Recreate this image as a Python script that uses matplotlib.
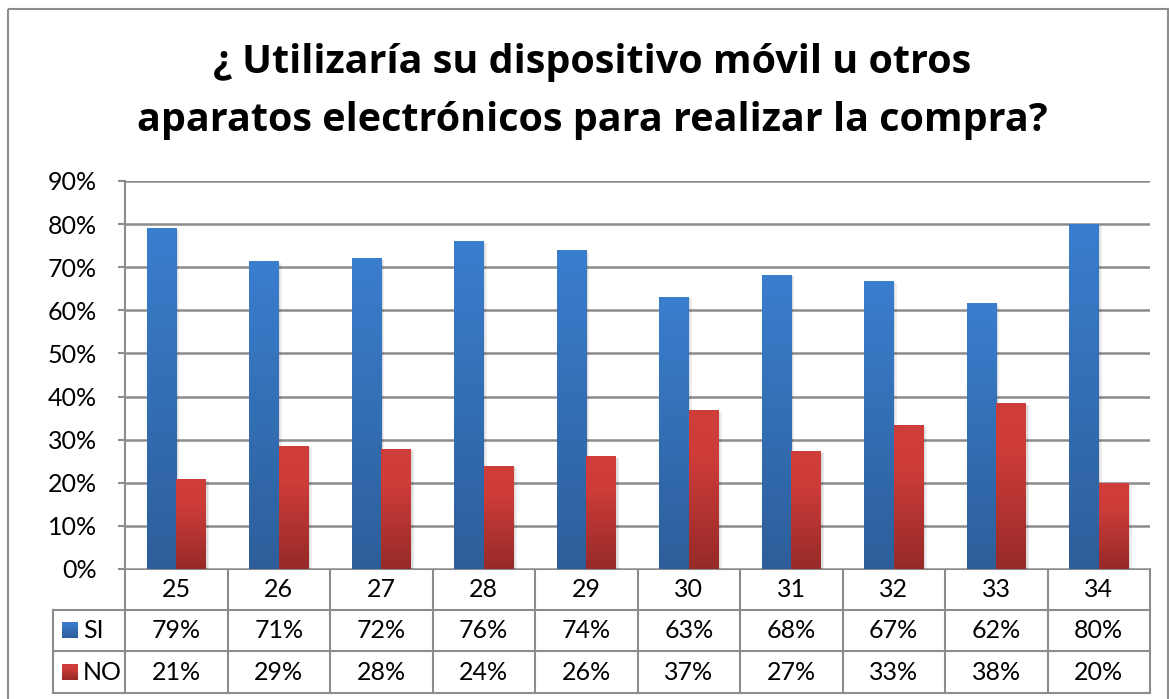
# Encuesta: uso de dispositivos moviles para compras, por edad
import numpy as np
import matplotlib.pyplot as plt
from matplotlib.patches import Rectangle
from matplotlib.colors import LinearSegmentedColormap

plt.rcParams['font.family'] = ['Lato', 'DejaVu Sans']

# Datos
edades = ['25', '26', '27', '28', '29', '30', '31', '32', '33', '34']
si = [79.1, 71.4, 72.1, 76.0, 74.0, 63.2, 68.3, 66.7, 61.6, 80.0]
no = [20.9, 28.6, 27.9, 24.0, 26.2, 36.8, 27.4, 33.4, 38.4, 20.0]
series = ['SI', 'NO']
titulo = ['¿ Utilizaría su dispositivo móvil u otros',
          'aparatos electrónicos para realizar la compra?']
yticks = [0, 10, 20, 30, 40, 50, 60, 70, 80, 90]

W, H = 1169, 699
fig = plt.figure(figsize=(W / 100, H / 100), dpi=100)

# Capa de fondo en pixeles (marco, titulo, tabla)
bg = fig.add_axes([0, 0, 1, 1])
bg.set_xlim(0, W)
bg.set_ylim(H, 0)
bg.axis('off')

grey = '#8c8c8c'
fs = 18
bg.add_patch(Rectangle((8, 9), 1160, 700, fill=False, ec=grey, lw=1.5))
t1 = bg.text(592, 63, titulo[0], ha='center', va='center', fontsize=30,
             fontweight='bold', family=['Open Sans', 'DejaVu Sans'])
t2 = bg.text(592, 120, titulo[1], ha='center', va='center', fontsize=30,
             fontweight='bold', family=['Open Sans', 'DejaVu Sans'])
# ajustar el ancho de la segunda linea a ~911 px
r = fig.canvas.get_renderer()
k = 911 / t2.get_window_extent(r).width
t1.set_fontsize(30 * k)
t2.set_fontsize(30 * k)

# Area de trazado
x0, x1, ytop, ybot = 125, 1150, 181, 569
ax = fig.add_axes([x0 / W, 1 - ybot / H, (x1 - x0) / W, (ybot - ytop) / H])
ax.set_xlim(0, len(edades))
ax.set_ylim(0, 90)
ax.set_yticks(yticks)
ax.set_yticklabels([f'{t}%' for t in yticks], fontsize=fs)
ax.set_xticks([])
ax.grid(axis='y', color=grey, lw=1.8)
ax.set_axisbelow(True)
for s in ['top', 'right', 'bottom']:
    ax.spines[s].set_visible(False)
ax.spines['left'].set_color(grey)
ax.spines['left'].set_linewidth(1.5)
ax.tick_params(axis='y', length=5, width=1.5, color=grey, pad=15)

cm_si = LinearSegmentedColormap.from_list('si', ['#2d5e9a', '#3a7ece'])
cm_no = LinearSegmentedColormap.from_list(
    'no', [(0, '#962a28'), (0.7, '#cd3c39'), (1, '#d03e3b')])
grad = np.linspace(0, 1, 256).reshape(-1, 1)

x = np.arange(len(edades)) + 0.5
bw = 0.29
for vals, off, cm in [(si, -bw / 2, cm_si), (no, bw / 2, cm_no)]:
    bars = ax.bar(x + off, vals, bw, color='none', zorder=3)
    for b in bars:
        bx, by = b.get_x(), b.get_height()
        # sombra suave
        for d, a in [(0.03, 0.07), (0.015, 0.07)]:
            ax.add_patch(Rectangle((bx + d, 0), bw, by - 0.4, fc='#000000',
                                   alpha=a, lw=0, zorder=2))
        im = ax.imshow(grad, extent=(bx, bx + bw, 0, by), origin='lower', cmap=cm,
                       aspect='auto', zorder=3)
        im.set_clip_path(b)
ax.set_xlim(0, len(edades))
ax.set_ylim(0, 90)

# Tabla de datos
rows = [569, 610, 651, 693]
lx = 53
cw = (x1 - x0) / len(edades)
bg.plot([x0, x1], [rows[0], rows[0]], color=grey, lw=1.5)
for rr in rows[1:]:
    bg.plot([lx, x1], [rr, rr], color=grey, lw=1.5)
bg.plot([lx, lx], [rows[1], rows[3]], color=grey, lw=1.5)
for i in range(len(edades) + 1):
    bg.plot([x0 + i * cw] * 2, [rows[0], rows[3]], color=grey, lw=1.5)

for i, e in enumerate(edades):
    cx = x0 + (i + 0.5) * cw
    bg.text(cx, (rows[0] + rows[1]) / 2, e, ha='center', va='center', fontsize=fs)
    bg.text(cx, (rows[1] + rows[2]) / 2, f'{si[i]:.0f}%', ha='center', va='center', fontsize=fs)
    bg.text(cx, (rows[2] + rows[3]) / 2, f'{no[i]:.0f}%', ha='center', va='center', fontsize=fs)

for j, (nombre, cm) in enumerate([(series[0], cm_si), (series[1], cm_no)]):
    yc = (rows[j + 1] + rows[j + 2]) / 2
    bg.imshow(grad[::-1], extent=(62, 78, yc + 8, yc - 8), cmap=cm, aspect='auto', zorder=3)
    bg.text(83, yc, nombre, ha='left', va='center', fontsize=fs)
bg.set_xlim(0, W)
bg.set_ylim(H, 0)

fig.savefig('out.png', dpi=100)
